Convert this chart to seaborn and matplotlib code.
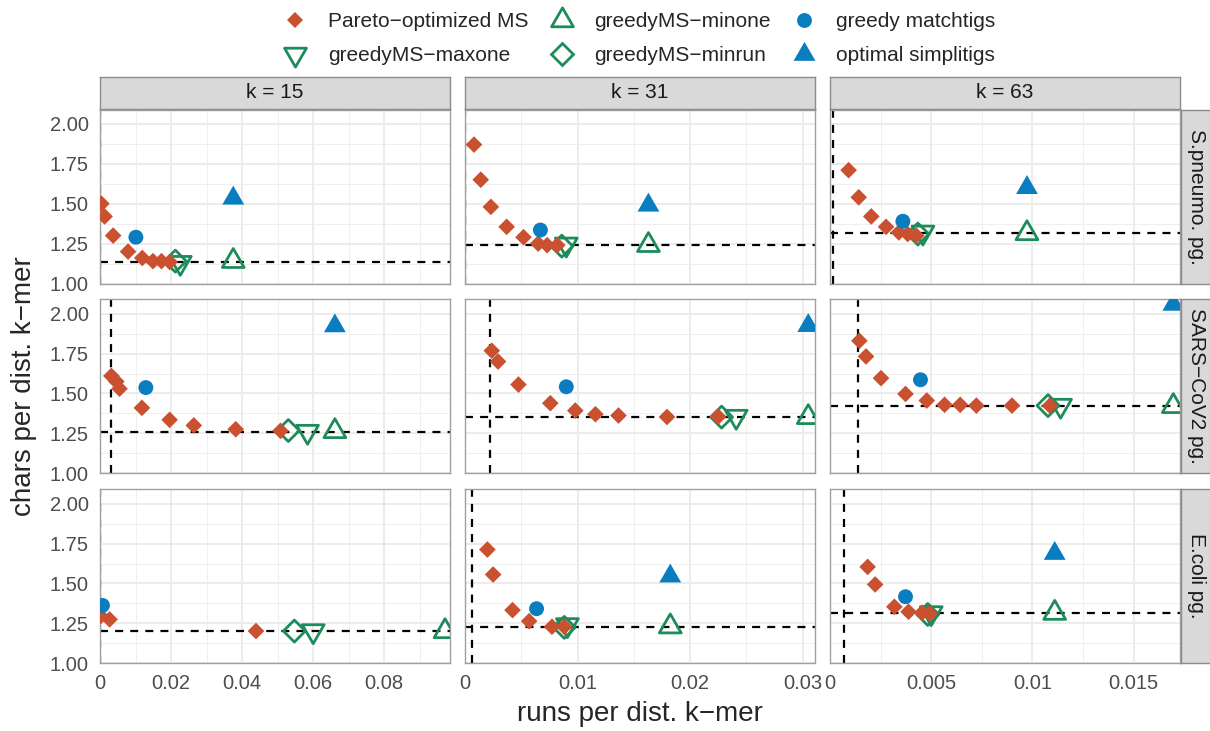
import numpy as np
import pandas as pd
import matplotlib
matplotlib.use("Agg")
import matplotlib.pyplot as plt
from matplotlib.path import Path
from matplotlib.lines import Line2D
from matplotlib.ticker import MultipleLocator
import seaborn as sns

# --- facets ---
species = ["S.pneumo. pg.", "SARS\u2212CoV2 pg.", "E.coli pg."]
kmers = [15, 31, 63]

# --- Pareto-optimized MS, one list pair per panel ---
pareto_x_spn15 = [0.0004, 0.0013, 0.0037, 0.0079, 0.0119, 0.0149, 0.0173, 0.0196]
pareto_y_spn15 = [1.50, 1.42, 1.30, 1.20, 1.16, 1.14, 1.14, 1.135]
pareto_x_spn31 = [0.0008, 0.0014, 0.0023, 0.0037, 0.0052, 0.0065, 0.0073, 0.0082]
pareto_y_spn31 = [1.87, 1.65, 1.48, 1.355, 1.29, 1.25, 1.24, 1.24]
pareto_x_spn63 = [0.00092, 0.00142, 0.00204, 0.00277, 0.0034, 0.00384, 0.00426]
pareto_y_spn63 = [1.71, 1.54, 1.42, 1.355, 1.32, 1.31, 1.30]
pareto_x_sars15 = [0.0032, 0.0046, 0.0055, 0.0118, 0.0196, 0.0264, 0.0382, 0.0508]
pareto_y_sars15 = [1.61, 1.575, 1.53, 1.41, 1.335, 1.30, 1.276, 1.266]
pareto_x_sars31 = [0.00238, 0.00294, 0.00475, 0.00758, 0.0098, 0.01159, 0.01364, 0.01795, 0.0225]
pareto_y_sars31 = [1.768, 1.70, 1.556, 1.439, 1.393, 1.370, 1.362, 1.353, 1.355]
pareto_x_sars63 = [0.00145, 0.00178, 0.00252, 0.00373, 0.00478, 0.00566, 0.00643, 0.00723, 0.00899, 0.01086]
pareto_y_sars63 = [1.83, 1.732, 1.596, 1.497, 1.456, 1.429, 1.429, 1.424, 1.424, 1.424]
pareto_x_eco15 = [0.0002, 0.0027, 0.0439]
pareto_y_eco15 = [1.296, 1.275, 1.202]
pareto_x_eco31 = [0.00199, 0.00250, 0.00422, 0.0057, 0.00773, 0.00882]
pareto_y_eco31 = [1.7125, 1.556, 1.333, 1.264, 1.229, 1.229]
pareto_x_eco63 = [0.00186, 0.00223, 0.00318, 0.00388, 0.00455, 0.00492]
pareto_y_eco63 = [1.604, 1.494, 1.354, 1.323, 1.317, 1.3125]

# --- single-point methods, panels in row order (S.pneumo 15/31/63, SARS..., E.coli...) ---
minone_x = [0.0375, 0.0163, 0.00973, 0.0661, 0.0305, 0.01696, 0.0971, 0.01824, 0.0111]
minone_y = [1.14, 1.24, 1.314, 1.263, 1.351, 1.42, 1.20, 1.23, 1.315]
maxone_x = [0.0226, 0.0090, 0.00459, 0.0584, 0.0241, 0.01139, 0.0600, 0.0091, 0.0050]
maxone_y = [1.13, 1.245, 1.32, 1.261, 1.355, 1.424, 1.202, 1.24, 1.315]
minrun_x = [0.0212, 0.0086, 0.00434, 0.0530, 0.0228, 0.01077, 0.0547, 0.00882, 0.00483]
minrun_y = [1.14, 1.234, 1.31, 1.268, 1.352, 1.424, 1.202, 1.225, 1.306]
matchtigs_x = [0.0101, 0.0067, 0.0036, 0.0129, 0.0090, 0.00447, 0.0007, 0.00636, 0.00373]
matchtigs_y = [1.29, 1.335, 1.39, 1.537, 1.542, 1.586, 1.3625, 1.342, 1.417]
simplitigs_x = [0.0375, 0.0163, 0.00973, 0.0661, 0.0305, 0.01696, np.nan, 0.01824, 0.0111]
simplitigs_y = [1.534, 1.49, 1.60, 1.923, 1.925, 2.058, np.nan, 1.546, 1.6875]

# lower bounds (dashed lines)
bound_runs = [0.0001, 0.00003, 0.00013, 0.0032, 0.0022, 0.0014, 0.0001, 0.00065, 0.00071]
bound_chars = [1.132, 1.24, 1.314, 1.261, 1.351, 1.424, 1.202, 1.229, 1.3125]

# --- axis ticks ---
x_ticks_15 = [0, 0.02, 0.04, 0.06, 0.08]
x_labels_15 = ["0", "0.02", "0.04", "0.06", "0.08"]
x_ticks_31 = [0, 0.01, 0.02, 0.03]
x_labels_31 = ["0", "0.01", "0.02", "0.03"]
x_ticks_63 = [0, 0.005, 0.01, 0.015]
x_labels_63 = ["0", "0.005", "0.01", "0.015"]
y_ticks = [1.00, 1.25, 1.50, 1.75, 2.00]
y_labels = ["1.00", "1.25", "1.50", "1.75", "2.00"]

pareto_x = [pareto_x_spn15, pareto_x_spn31, pareto_x_spn63,
            pareto_x_sars15, pareto_x_sars31, pareto_x_sars63,
            pareto_x_eco15, pareto_x_eco31, pareto_x_eco63]
pareto_y = [pareto_y_spn15, pareto_y_spn31, pareto_y_spn63,
            pareto_y_sars15, pareto_y_sars31, pareto_y_sars63,
            pareto_y_eco15, pareto_y_eco31, pareto_y_eco63]

M_PARETO = "Pareto\u2212optimized MS"
M_MAXONE = "greedyMS\u2212maxone"
M_MINONE = "greedyMS\u2212minone"
M_MINRUN = "greedyMS\u2212minrun"
M_MATCH = "greedy matchtigs"
M_SIMPL = "optimal simplitigs"

rows = []
for i in range(9):
    sp, k = species[i // 3], kmers[i % 3]
    for rx, ry in zip(pareto_x[i], pareto_y[i]):
        rows.append((sp, k, M_PARETO, rx, ry))
    for m, xs, ys in [(M_MINONE, minone_x, minone_y), (M_MAXONE, maxone_x, maxone_y),
                      (M_MINRUN, minrun_x, minrun_y), (M_MATCH, matchtigs_x, matchtigs_y),
                      (M_SIMPL, simplitigs_x, simplitigs_y)]:
        if not np.isnan(xs[i]):
            rows.append((sp, k, m, xs[i], ys[i]))
df = pd.DataFrame(rows, columns=["species", "k", "method", "runs", "chars"])

# --- styling ---
RED = "#C9512F"
GREEN = "#1E8C5A"
BLUE = "#0A7DC1"
TRI_UP = Path([(0, 1), (-0.866, -0.5), (0.866, -0.5), (0, 1)], closed=True)
TRI_DOWN = Path([(0, -1), (-0.866, 0.5), (0.866, 0.5), (0, -1)], closed=True)

styles = {
    M_MINONE: dict(marker=TRI_UP, s=330, color=GREEN, facecolor="none", edgecolor=GREEN, linewidth=2.0),
    M_MAXONE: dict(marker=TRI_DOWN, s=330, color=GREEN, facecolor="none", edgecolor=GREEN, linewidth=2.0),
    M_MINRUN: dict(marker="D", s=125, color=GREEN, facecolor="none", edgecolor=GREEN, linewidth=2.0),
    M_PARETO: dict(marker="D", s=72, color=RED, edgecolor="none", linewidth=0),
    M_MATCH: dict(marker="o", s=115, color=BLUE, edgecolor="none", linewidth=0),
    M_SIMPL: dict(marker=TRI_UP, s=330, color=BLUE, edgecolor="none", linewidth=0),
}

sns.set_theme(style="white")
plt.rcParams["font.family"] = ["Liberation Sans", "DejaVu Sans"]

W, H = 1210, 731
fig = plt.figure(figsize=(W / 100, H / 100), dpi=100)

col_left = [100, 465, 830]
row_top = [109.5, 299.3, 489.3]
pw, ph = 350, 174
x_max = [0.0985, 0.0311, 0.01729]
x_ticks = [x_ticks_15, x_ticks_31, x_ticks_63]
x_labels = [x_labels_15, x_labels_31, x_labels_63]

for i in range(9):
    r, c = i // 3, i % 3
    ax = fig.add_axes([col_left[c] / W, (H - row_top[r] - ph) / H, pw / W, ph / H])
    sub = df[(df["species"] == species[r]) & (df["k"] == kmers[c])]

    ax.axvline(bound_runs[i], color="black", lw=1.6, ls=(0, (3.6, 3.2)), zorder=1)
    ax.axhline(bound_chars[i], color="black", lw=1.6, ls=(0, (3.6, 3.2)), zorder=1)

    for m in [M_MINONE, M_MAXONE, M_MINRUN, M_PARETO, M_MATCH, M_SIMPL]:
        d = sub[sub["method"] == m]
        if len(d) == 0:
            continue
        sns.scatterplot(data=d, x="runs", y="chars", ax=ax, legend=False, zorder=3, **styles[m])

    ax.set_xlim(0, x_max[c])
    ax.set_ylim(1.0, 2.09)
    ax.set_xticks(x_ticks[c])
    ax.set_yticks(y_ticks)
    ax.xaxis.set_minor_locator(MultipleLocator(x_ticks[c][1] / 2))
    ax.yaxis.set_minor_locator(MultipleLocator(0.125))
    ax.set_xlabel("")
    ax.set_ylabel("")
    ax.set_axisbelow(True)
    ax.grid(which="major", color="#EBEBEB", lw=1.3)
    ax.grid(which="minor", color="#EFEFEF", lw=0.7)
    for sp in ax.spines.values():
        sp.set_color("#A0A0A0")
        sp.set_linewidth(1.0)
    ax.tick_params(which="minor", length=0)
    ax.tick_params(which="major", length=5, width=1.2, color="#333333",
                   labelsize=14.5, labelcolor="#4D4D4D", pad=3)
    if r == 2:
        ax.set_xticklabels(x_labels[c])
    else:
        ax.tick_params(axis="x", bottom=False, labelbottom=False)
    if c == 0:
        ax.set_yticklabels(y_labels)
    else:
        ax.tick_params(axis="y", left=False, labelleft=False)

# facet strips
def strip(rect, label, rotation=0):
    s = fig.add_axes(rect)
    s.set_facecolor("#D9D9D9")
    s.set_xticks([])
    s.set_yticks([])
    for sp in s.spines.values():
        sp.set_color("#8C8C8C")
        sp.set_linewidth(1.0)
    s.text(0.5, 0.5, label, rotation=rotation, ha="center", va="center",
           fontsize=15, color="#1A1A1A", transform=s.transAxes)

for c in range(3):
    strip([col_left[c] / W, (H - 108.5) / H, pw / W, 31.5 / H], f"k = {kmers[c]}")
for r in range(3):
    strip([1181 / W, (H - row_top[r] - ph) / H, 31 / W, ph / H], species[r], rotation=-90)

# axis titles
fig.text(640 / W, 1 - 714 / H, "runs per dist. k\u2212mer", ha="center", va="center", fontsize=20)
fig.text(24 / W, 1 - 386 / H, "chars per dist. k\u2212mer", ha="center", va="center",
         rotation=90, fontsize=20)

# legend
order = [M_PARETO, M_MAXONE, M_MINONE, M_MINRUN, M_MATCH, M_SIMPL]
handles = []
for m in order:
    st = styles[m]
    fc = st.get("facecolor", st["color"])
    handles.append(Line2D([], [], ls="none", marker=st["marker"], markersize=np.sqrt(st["s"]),
                          markerfacecolor=fc, markeredgecolor=st["color"],
                          markeredgewidth=st["linewidth"], label=m))
fig.legend(handles=handles, ncol=3, loc="upper left", bbox_to_anchor=(285 / W, 1 - 12 / H),
           frameon=False, fontsize=15, handlelength=1.0, handletextpad=1.05,
           columnspacing=1.1, labelspacing=0.72, borderpad=0, borderaxespad=0)

fig.savefig("out.png", dpi=100)
